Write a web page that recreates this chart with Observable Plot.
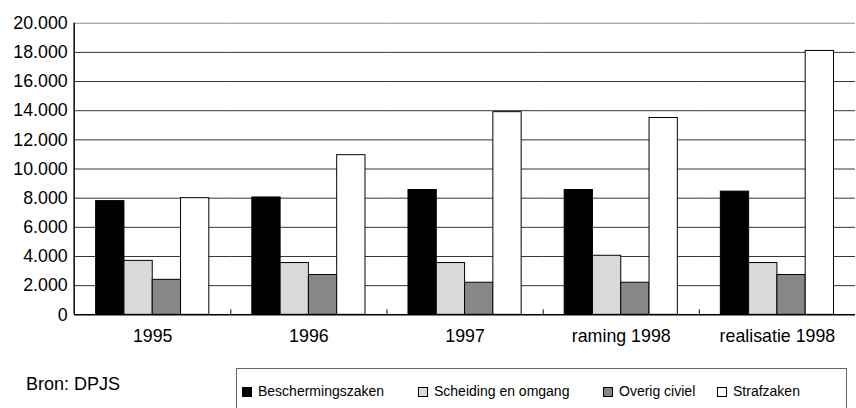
<!DOCTYPE html>
<html>
<head>
<meta charset="utf-8">
<script src="https://cdn.jsdelivr.net/npm/d3@7"></script>
<script src="https://cdn.jsdelivr.net/npm/@observablehq/plot@0.6"></script>
<style>
  html, body { margin: 0; padding: 0; background: #fff; }
  #wrap { width: 856px; height: 408px; overflow: hidden; position: relative; font-family: 'Liberation Sans', Arial, sans-serif; }
  #chart { width: 856px; height: 360px; overflow: hidden; }
  #chart svg { display: block; }
  #bottom { position: relative; width: 856px; height: 48px; }
  #bron { position: absolute; left: 26px; top: 14px; font-size: 18px; color: #000; }
  #legend { position: absolute; left: 236px; top: 8px; width: 611px; height: 60px; border: 1px solid #666; box-sizing: border-box; }
  .item { position: absolute; top: 17px; font-size: 14px; color: #000; white-space: nowrap; }
  .sw { position: absolute; top: 1px; width: 10px; height: 10px; border: 1px solid #000; box-sizing: border-box; }
  .lab { position: absolute; left: 16px; top: -3px; }
</style>
</head>
<body>
<div id="wrap">
  <div id="chart"></div>
  <div id="bottom">
    <div id="bron">Bron: DPJS</div>
    <div id="legend"></div>
  </div>
</div>
<script>
const groups = ["1995", "1996", "1997", "raming 1998", "realisatie 1998"];
const series = ["Beschermingszaken", "Scheiding en omgang", "Overig civiel", "Strafzaken"];
const beschermingszaken = [7800, 8050, 8560, 8560, 8450];
const scheidingEnOmgang = [3700, 3550, 3550, 4050, 3550];
const overigCiviel = [2400, 2730, 2200, 2200, 2730];
const strafzaken = [8000, 10950, 13900, 13500, 18100];
const seriesColors = ["#000000", "#d9d9d9", "#878787", "#ffffff"];
const yTicks = [0, 2000, 4000, 6000, 8000, 10000, 12000, 14000, 16000, 18000, 20000];

const valuesBySeries = [beschermingszaken, scheidingEnOmgang, overigCiviel, strafzaken];
const data = [];
groups.forEach((g, i) => {
  series.forEach((s, j) => data.push({group: g, series: s, value: valuesBySeries[j][i]}));
});

const fmt = d => d3.format(",")(d).replace(/,/g, ".");

const plot = Plot.plot({
  width: 866,
  height: 360,
  marginLeft: 75,
  marginRight: 1,
  marginTop: 23,
  marginBottom: 42,
  style: {fontFamily: "'Liberation Sans', Arial, sans-serif", fontSize: "18px", background: "white", color: "black"},
  fx: {domain: groups, padding: 0, label: null, axis: "bottom", tickSize: 0, tickPadding: 15},
  x: {domain: series, paddingInner: 0, paddingOuter: 0.76, round: false, axis: null},
  y: {domain: [0, 20000], ticks: yTicks, tickFormat: fmt, tickSize: 0, tickPadding: 7, label: null},
  color: {domain: series, range: seriesColors},
  marks: [
    Plot.ruleY(yTicks.filter(t => t > 0 && t < 20000), {stroke: "#333", strokeWidth: 1}),
    Plot.ruleY([20000], {stroke: "#888", strokeWidth: 1}),
    Plot.barY(data, {fx: "group", x: "series", y: "value", fill: "series", stroke: "#000", strokeWidth: 1, inset: 0}),
    Plot.ruleY([0], {stroke: "#000", strokeWidth: 1.5})
  ]
});

document.getElementById("chart").appendChild(plot);

// left axis line and small ticks between groups, placed with the plot's own scales
try {
  const svg = d3.select(plot.tagName.toLowerCase() === "svg" ? plot : plot.querySelector("svg"));
  const ys = plot.scale("y");
  const fxs = plot.scale("fx");
  const y = d3.scaleLinear().domain(ys.domain).range(ys.range);
  const band = d3.scaleBand().domain(fxs.domain).range(fxs.range)
    .paddingInner(fxs.paddingInner ?? 0).paddingOuter(fxs.paddingOuter ?? 0).align(fxs.align ?? 0.5);
  if (fxs.round) band.round(true);
  const y0 = y(0);
  svg.append("line").attr("x1", band.range()[0]).attr("x2", band.range()[0])
    .attr("y1", y(20000)).attr("y2", y0).attr("stroke", "#000").attr("stroke-width", 1.5);
  groups.slice(1).forEach(g => {
    const xx = Math.round(band(g)) + 0.5;
    svg.append("line").attr("x1", xx).attr("x2", xx).attr("y1", y0 - 5).attr("y2", y0)
      .attr("stroke", "#000").attr("stroke-width", 1);
  });
} catch (e) { console.error(e); }

// legend
const legend = document.getElementById("legend");
const lefts = [5, 181, 366, 480];
series.forEach((s, j) => {
  const item = document.createElement("div");
  item.className = "item";
  item.style.left = lefts[j] + "px";
  const sw = document.createElement("div");
  sw.className = "sw";
  sw.style.background = seriesColors[j];
  const lab = document.createElement("span");
  lab.className = "lab";
  lab.textContent = s;
  item.appendChild(sw);
  item.appendChild(lab);
  legend.appendChild(item);
});
</script>
</body>
</html>
